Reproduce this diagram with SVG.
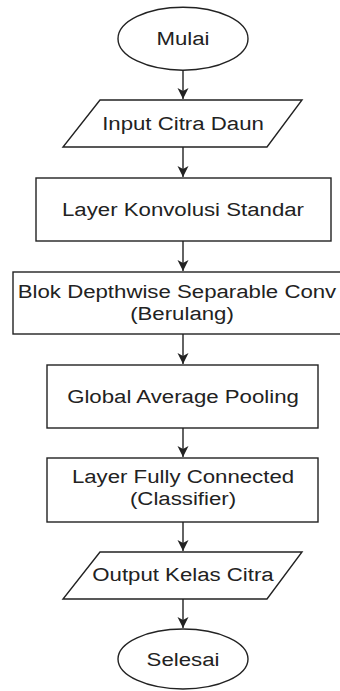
<svg xmlns="http://www.w3.org/2000/svg" width="340" height="691" viewBox="0 0 340 691">
<defs>
<style>
.shape{fill:#fff;stroke:#222;stroke-width:1.4}
.lbl{font-family:"Liberation Sans",Arial,sans-serif;font-size:19px;fill:#222;text-anchor:middle}
.conn{stroke:#222;stroke-width:1.4;fill:none}
</style>
<marker id="arr" viewBox="0 0 12 12" refX="11" refY="6" markerWidth="12" markerHeight="12" markerUnits="userSpaceOnUse" orient="auto">
<path d="M0,0.5 L11,6 L0,11.5 L3,6 Z" fill="#222"/>
</marker>
</defs>
<rect width="340" height="691" fill="#fff"/>
<g id="connectors">
<line class="conn" x1="183" y1="70" x2="183" y2="99" marker-end="url(#arr)"/>
<line class="conn" x1="183" y1="147" x2="183" y2="177" marker-end="url(#arr)"/>
<line class="conn" x1="183" y1="241" x2="183" y2="271" marker-end="url(#arr)"/>
<line class="conn" x1="183" y1="334" x2="183" y2="364" marker-end="url(#arr)"/>
<line class="conn" x1="183" y1="428" x2="183" y2="457" marker-end="url(#arr)"/>
<line class="conn" x1="183" y1="522" x2="183" y2="551" marker-end="url(#arr)"/>
<line class="conn" x1="183" y1="599" x2="183" y2="628" marker-end="url(#arr)"/>
</g>
<g id="mulai">
<ellipse class="shape" cx="183" cy="38.7" rx="65" ry="31.5"/>
<text class="lbl" transform="matrix(1.17 0 0 1 183 45)">Mulai</text>
</g>
<g id="input">
<polygon class="shape" points="100,100 302,100 267,147 63,147"/>
<text class="lbl" transform="matrix(1.17 0 0 1 183 130)">Input Citra Daun</text>
</g>
<g id="konvolusi">
<rect class="shape" x="36" y="178" width="295" height="63"/>
<text class="lbl" transform="matrix(1.17 0 0 1 183 216)">Layer Konvolusi Standar</text>
</g>
<g id="depthwise">
<rect class="shape" x="13" y="272" width="345" height="62"/>
<text class="lbl" transform="matrix(1.17 0 0 1 177 298)">Blok Depthwise Separable Conv</text>
<text class="lbl" transform="matrix(1.17 0 0 1 182 320)">(Berulang)</text>
</g>
<g id="gap">
<rect class="shape" x="47" y="365" width="271" height="63"/>
<text class="lbl" transform="matrix(1.17 0 0 1 183 403)">Global Average Pooling</text>
</g>
<g id="fc">
<rect class="shape" x="47" y="458" width="271" height="64"/>
<text class="lbl" transform="matrix(1.17 0 0 1 183 483)">Layer Fully Connected</text>
<text class="lbl" transform="matrix(1.17 0 0 1 183 505)">(Classifier)</text>
</g>
<g id="output">
<polygon class="shape" points="100,552 302,552 267,599 63,599"/>
<text class="lbl" transform="matrix(1.17 0 0 1 183 581)">Output Kelas Citra</text>
</g>
<g id="selesai">
<ellipse class="shape" cx="183" cy="659" rx="65" ry="30"/>
<text class="lbl" transform="matrix(1.17 0 0 1 183 666)">Selesai</text>
</g>
</svg>
